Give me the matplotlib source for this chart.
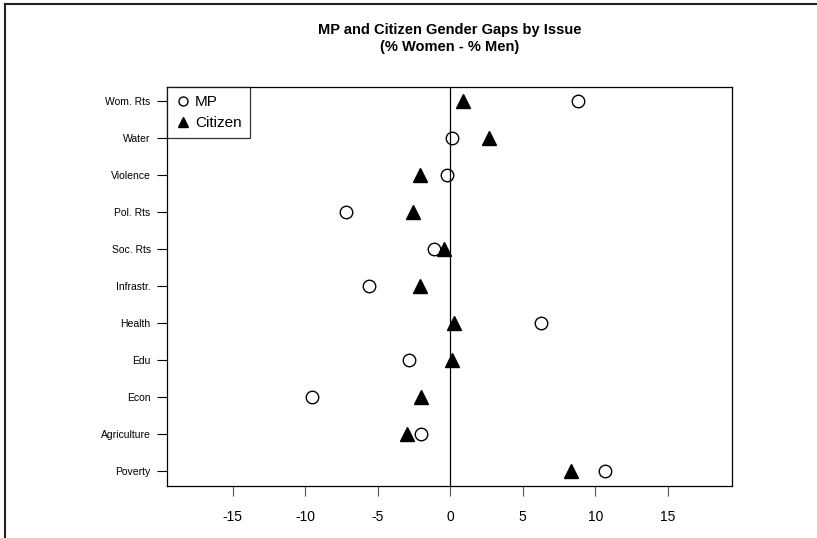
import matplotlib
matplotlib.use('Agg')
import matplotlib.pyplot as plt
from matplotlib.lines import Line2D

plt.rcParams['font.family'] = ['Liberation Sans', 'DejaVu Sans']

# issues from bottom to top of the chart
issues = ['Poverty', 'Agriculture', 'Econ', 'Edu', 'Health', 'Infrastr.',
          'Soc. Rts', 'Pol. Rts', 'Violence', 'Water', 'Wom. Rts']
mp_gap = [10.69, -2.04, -9.52, -2.87, 6.23, -5.61, -1.1, -7.21, -0.23, 0.1, 8.83]
citizen_gap = [8.34, -3.01, -2.04, 0.1, 0.28, -2.09, -0.41, -2.6, -2.11, 2.65, 0.88]
xticks = [-15, -10, -5, 0, 5, 10, 15]

fig = plt.figure(figsize=(8.17, 5.38), dpi=100)
ax = fig.add_axes([167.3 / 817, 1 - 486 / 538, (732.3 - 167.3) / 817, (486 - 86.7) / 538])

ypos = list(range(1, len(issues) + 1))
ax.plot(mp_gap, ypos, 'o', mfc='white', mec='black', mew=1.0, ms=9, ls='none', label='MP')
ax.plot(citizen_gap, ypos, '^', color='black', ms=10.5, ls='none', label='Citizen')
ax.axvline(0, color='black', lw=0.9)

ax.set_xlim(-19.52, 19.45)
ax.set_ylim(0.6, 11.39)
ax.set_xticks(xticks)
ax.set_xticklabels([str(t) for t in xticks], fontsize=10)
ax.set_yticks(ypos)
ax.set_yticklabels(issues, fontsize=7.5)
ax.tick_params(axis='x', length=7, width=0.8, pad=10, color='#555555')
ax.tick_params(axis='y', length=7, width=0.8, pad=5)
for s in ax.spines.values():
    s.set_linewidth(0.9)

ax.set_title('MP and Citizen Gender Gaps by Issue\n(% Women - % Men)',
             fontsize=10.5, fontweight='bold', pad=26, linespacing=1.25)

handles = [Line2D([], [], marker='o', ls='none', mfc='white', mec='black', ms=6.5),
           Line2D([], [], marker='^', ls='none', color='black', ms=7.5)]
leg = ax.legend(handles, ['MP', 'Citizen'], loc='upper left', fontsize=11,
                frameon=True, fancybox=False, borderaxespad=0, handletextpad=0.25,
                handlelength=1.0, labelspacing=0.45, borderpad=0.55)
leg.get_frame().set_edgecolor('black')
leg.get_frame().set_linewidth(0.9)

# frame lines at left and top of the figure
fig.add_artist(Line2D([4.5 / 817, 4.5 / 817], [0, 1 - 3.5 / 538], color='#222222', lw=1.5))
fig.add_artist(Line2D([4.5 / 817, 1], [1 - 3.5 / 538, 1 - 3.5 / 538], color='#222222', lw=1.5))

fig.savefig('out.png', dpi=100)
